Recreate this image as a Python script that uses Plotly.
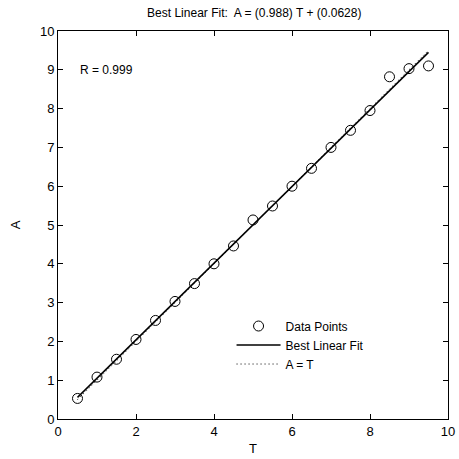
import plotly.graph_objects as go

T = [0.5, 1.0, 1.5, 2.0, 2.5, 3.0, 3.5, 4.0, 4.5, 5.0, 5.5, 6.0, 6.5, 7.0, 7.5, 8.0, 8.5, 9.0, 9.5]
A = [0.53, 1.08, 1.54, 2.05, 2.54, 3.03, 3.49, 4.00, 4.46, 5.13, 5.49, 6.00, 6.46, 7.00, 7.44, 7.95, 8.82, 9.03, 9.10]
slope = 0.988
intercept = 0.0628
r_value = 0.999

t_ends = [min(T), max(T)]
fit = [slope * t + intercept for t in t_ends]

font = "Liberation Sans, Arial, sans-serif"
fig = go.Figure()
fig.add_trace(go.Scatter(x=T, y=A, mode="markers", name="Data Points",
                         marker=dict(symbol="circle-open", size=10, color="black", line=dict(width=1, color="black"))))
fig.add_trace(go.Scatter(x=t_ends, y=fit, mode="lines", name="Best Linear Fit",
                         line=dict(color="black", width=1.5)))
fig.add_trace(go.Scatter(x=t_ends, y=t_ends, mode="lines", name="A = T",
                         line=dict(color="black", width=1, dash="1px,3px")))

fig.add_annotation(x=0.5, y=9, xref="x", yref="y", text=f"R = {r_value}", showarrow=False,
                   xanchor="left", yanchor="middle", font=dict(size=12, color="black", family=font))

axis_common = dict(showgrid=False, zeroline=False, showline=True, linecolor="black", linewidth=1,
                   mirror="ticks", ticks="inside", ticklen=5, tickcolor="black",
                   tickfont=dict(size=13, color="black", family=font))
fig.update_xaxes(range=[0, 10], dtick=2, tick0=0, title=dict(text="T", font=dict(size=13, color="black", family=font), standoff=6), **axis_common)
fig.update_yaxes(range=[0, 10], dtick=1, tick0=0, title=dict(text="A", font=dict(size=13, color="black", family=font), standoff=16), **axis_common)

fig.update_layout(
    width=459, height=459,
    margin=dict(l=58, r=11, t=31, b=40, autoexpand=False),
    plot_bgcolor="white", paper_bgcolor="white",
    title=dict(text="Best Linear Fit:  A = (0.988) T + (0.0628)", x=0.554, xanchor="center", y=0.972, yanchor="middle",
               font=dict(size=12, color="black", family=font)),
    legend=dict(x=0.445, y=0.277, xanchor="left", yanchor="top", bgcolor="rgba(0,0,0,0)",
                font=dict(size=12, color="black", family=font), itemwidth=44, tracegroupgap=0),
    showlegend=True,
)

fig.write_html("out.html", config={"displayModeBar": False},
               post_script="document.body.style.margin='0';document.body.style.overflow='hidden';")
